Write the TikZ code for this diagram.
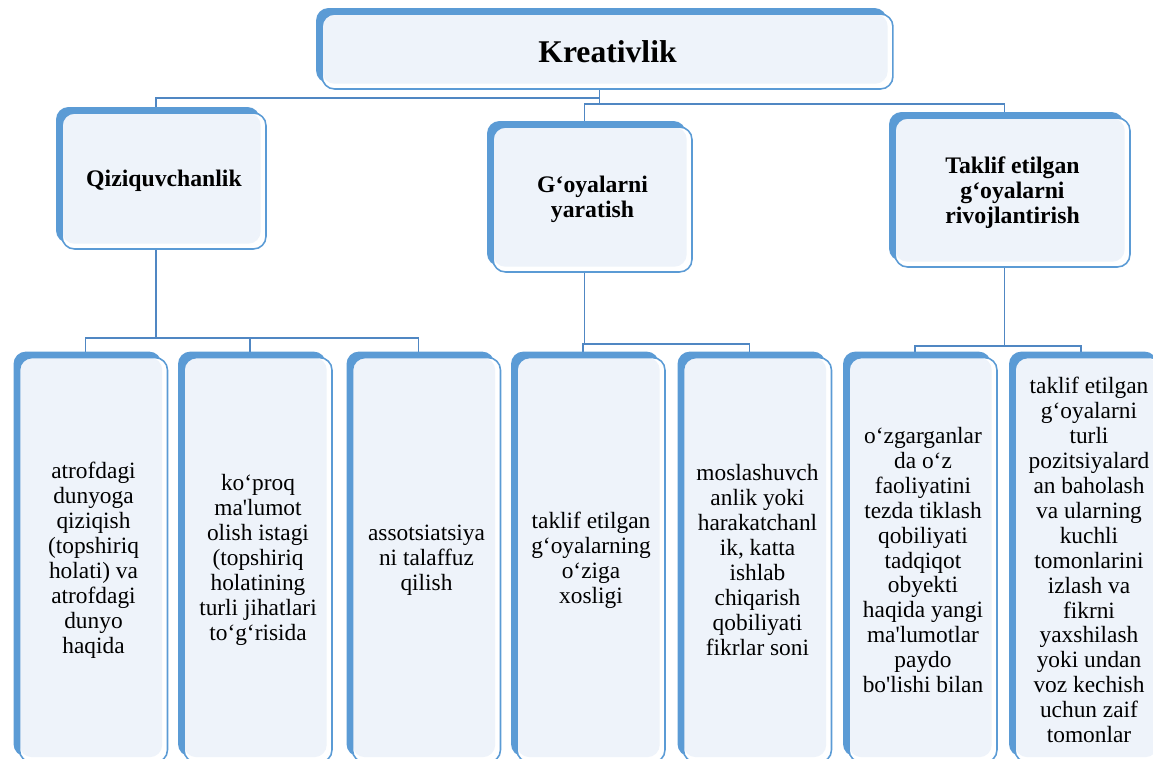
\documentclass[tikz,border=0pt]{standalone}
\usepackage{fontspec}
\setmainfont{Liberation Serif}
\usetikzlibrary{shadows,backgrounds}

\definecolor{boxblue}{HTML}{5B9BD5}
\definecolor{boxfill}{HTML}{EEF3FA}
\definecolor{linkblue}{HTML}{5087C3}

\newcommand{\apos}{\textquotesingle}

\tikzset{
  box/.style={draw=boxblue, line width=0.9pt, fill=white,
    rounded corners=0.25cm, align=center, inner sep=2pt,
    path picture={\fill[boxfill] (path picture bounding box.north west)
      rectangle ([shift={(-3pt,3pt)}]path picture bounding box.south east);},
    general shadow={fill=boxblue, shadow xshift=-0.12cm, shadow yshift=0.12cm}},
  topbox/.style={box, minimum width=11.42cm, minimum height=1.5cm,
    font={\fontsize{18}{21}\selectfont\bfseries}},
  midbox/.style={box, font={\fontsize{13.5}{14.2}\selectfont\bfseries}},
  leafbox/.style={box, minimum width=2.96cm, minimum height=8.1cm,
    font={\fontsize{13.3}{14.2}\selectfont}},
  link/.style={draw=linkblue, line width=1.1pt}
}

\begin{document}
\begin{tikzpicture}[x=0.02cm, y=-0.02cm]

\useasboundingbox (0,0) rectangle (1153,758);
\clip (0,0) rectangle (1153,758);

% Kreativlik
\node[topbox] (kreat) at (607.5,51.5) {Kreativlik};

% ikkinchi qator
\node[midbox, minimum width=4.08cm, minimum height=2.72cm]
(qiziq) at (164,181) {Qiziquvchanlik};

\node[midbox, minimum width=3.98cm, minimum height=2.9cm]
(goya) at (592.5,199.5) {G‘oyalarni\\yaratish};

\node[midbox, minimum width=4.7cm, minimum height=2.98cm]
(taklif) at (1012.5,192.5) {Taklif etilgan\\g‘oyalarni\\rivojlantirish};

% pastki qator
\node[leafbox] (atrof) at (93.5,560)
{atrofdagi\\dunyoga\\qiziqish\\(topshiriq\\holati) va\\atrofdagi\\dunyo\\haqida};

\node[leafbox] (malumot) at (258,560)
{ko‘proq\\ma\apos{}lumot\\olish istagi\\(topshiriq\\holatining\\turli jihatlari\\to‘g‘risida};

\node[leafbox] (assots) at (426.5,560)
{assotsiatsiya\\ni talaffuz\\qilish};

\node[leafbox] (ozig) at (591,560)
{taklif etilgan\\g‘oyalarning\\o‘ziga\\xosligi};

\node[leafbox] (moslash) at (757.5,560)
{moslashuvch\\anlik yoki\\harakatchanl\\ik, katta\\ishlab\\chiqarish\\qobiliyati\\fikrlar soni};

\node[leafbox] (ozgar) at (923,560)
{o‘zgarganlar\\da o‘z\\faoliyatini\\tezda tiklash\\qobiliyati\\tadqiqot\\obyekti\\haqida yangi\\ma\apos{}lumotlar\\paydo\\bo\apos{}lishi bilan};

\node[leafbox] (baholash) at (1089,560)
{taklif etilgan\\g‘oyalarni\\turli\\pozitsiyalard\\an baholash\\va ularning\\kuchli\\tomonlarini\\izlash va\\fikrni\\yaxshilash\\yoki undan\\voz kechish\\uchun zaif\\tomonlar};

% chiziqlar
\begin{scope}[on background layer]
\draw[link] ([xshift=-1.6mm]kreat.south) -- ++(0,8) -| ([xshift=-1.6mm]qiziq.north);
\draw[link] ([xshift=-1.6mm]kreat.south) -- ++(0,14) -| ([xshift=-1.6mm]taklif.north);
\draw[link] ([xshift=-1.6mm]kreat.south) -- ++(0,14) -| ([xshift=-1.6mm]goya.north);

\draw[link] ([xshift=-1.6mm]qiziq.south) -- ++(0,88) coordinate (busq);
\foreach \c in {atrof,malumot,assots}
  \draw[link] (busq) -| ([xshift=-1.6mm]\c.north);

\draw[link] ([xshift=-1.6mm]goya.south) -- ++(0,71) coordinate (busg);
\foreach \c in {ozig,moslash}
  \draw[link] (busg) -| ([xshift=-1.6mm]\c.north);

\draw[link] ([xshift=-1.6mm]taklif.south) -- ++(0,78) coordinate (bust);
\foreach \c in {ozgar,baholash}
  \draw[link] (bust) -| ([xshift=-1.6mm]\c.north);
\end{scope}

\end{tikzpicture}
\end{document}
